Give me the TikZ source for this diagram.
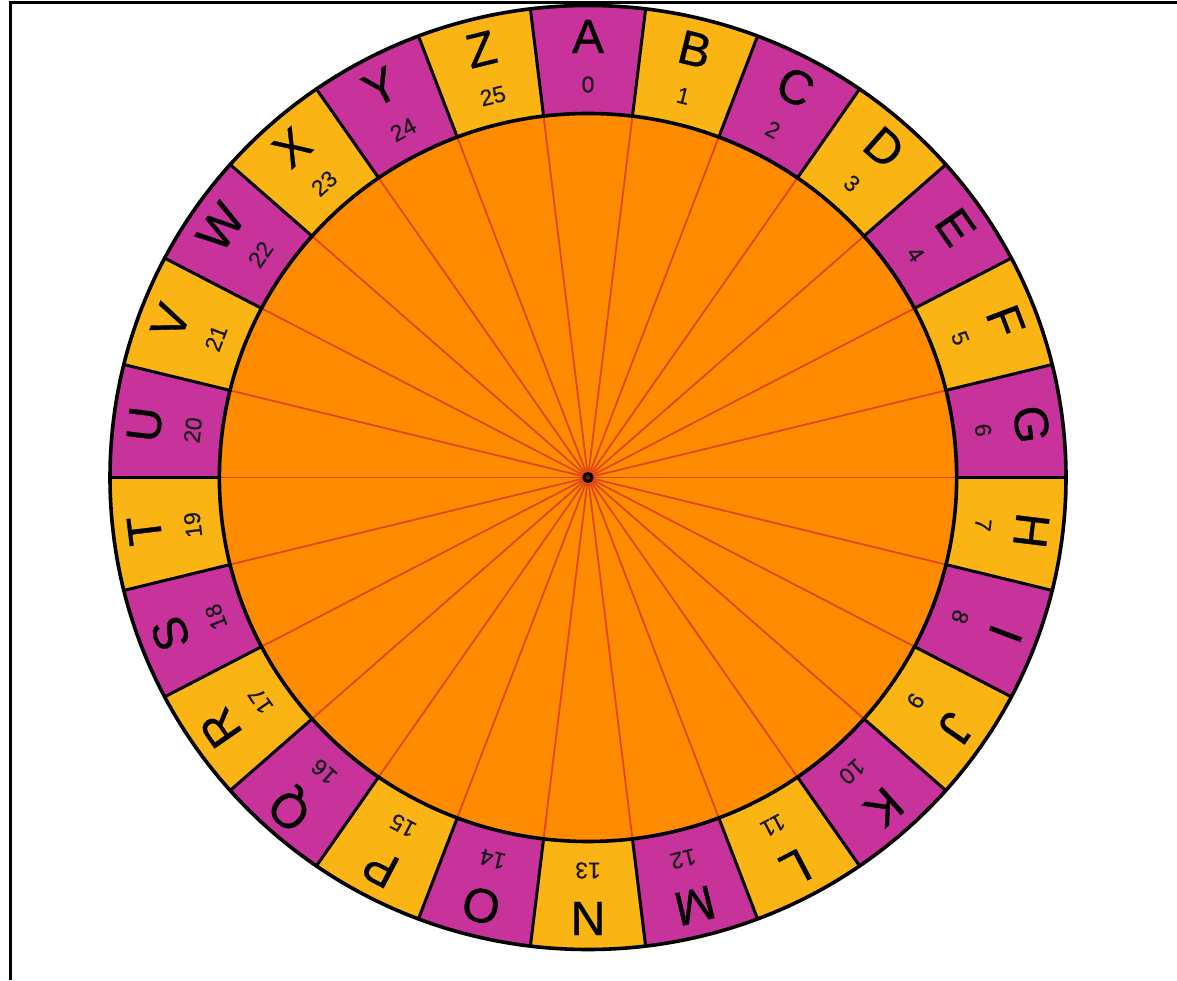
\documentclass[tikz,border=0pt]{standalone}
\usepackage{fontspec}
\setmainfont{Liberation Sans}
\newfontfamily\letterfont[FakeBold=0.7]{Liberation Sans}
\newfontfamily\numfont[FakeBold=0.4]{Liberation Sans}
\definecolor{mag}{RGB}{200,50,155}
\definecolor{yel}{RGB}{250,180,20}
\definecolor{innerorange}{RGB}{255,140,0}
\definecolor{spokecol}{RGB}{225,70,25}
\definecolor{hubcol}{RGB}{120,30,10}
\begin{document}
\begin{tikzpicture}[x=0.5pt,y=0.5pt,
  seg/.style={line width=1.5pt, draw=black},
  rim/.style={line width=1.8pt, draw=black},
  letter/.style={font=\letterfont\fontsize{24}{24}\selectfont, inner sep=0pt, text=black},
  num/.style={font=\numfont\fontsize{11.5}{11.5}\selectfont, inner sep=0pt, text=black!90},
  spoke/.style={draw=spokecol, line width=0.9pt}]
\useasboundingbox[fill=white] (0,0) rectangle (1177,980);
\coordinate (fbl) at (10,0);
\coordinate (ftl) at (10,977);
\coordinate (ftr) at (1177,977);
\draw[line width=1.5pt] (fbl) -- (ftl) -- (ftr);
\begin{scope}[shift={(588,502.5)}, xscale=1.0127]
\coordinate (c) at (0,0);
\fill[innerorange] (c) circle[radius=364];
\foreach \i in {0,...,25}{
  \pgfmathsetmacro\aa{90-(\i-0.5)*360/26}
  \pgfmathsetmacro\ab{90-(\i+0.5)*360/26}
  \pgfmathtruncatemacro\pp{mod(\i,2)}
  \ifnum\pp=0 \def\col{mag}\else\def\col{yel}\fi
  \fill[\col] (\aa:472) arc[start angle=\aa, end angle=\ab, radius=472] -- (\ab:364) arc[start angle=\ab, end angle=\aa, radius=364] -- cycle;
}
\foreach \i in {0,...,25}{
  \pgfmathsetmacro\b{90-(\i+0.5)*360/26}
  \coordinate (s\i) at (\b:364);
  \coordinate (o\i) at (\b:472);
  \draw[spoke] (c) -- (s\i);
  \draw[seg] (s\i) -- (o\i);
}
\draw[rim] (c) circle[radius=364];
\draw[rim] (c) circle[radius=472];
\draw[line width=1.5pt, fill=hubcol] (c) circle[radius=4];
\foreach \L [count=\n from 0] in {A,B,C,D,E,F,G,H,I,J,K,L,M,N,O,P,Q,R,S,T,U,V,W,X,Y,Z}{
  \pgfmathsetmacro\t{90-\n*360/26}
  \pgfmathsetmacro\r{\t-90}
  \node[letter, rotate=\r] (L\n) at (\t:441) {\L};
  \node[num, rotate=\r] (N\n) at (\t:393) {\n};
}
\end{scope}
\end{tikzpicture}
\end{document}
